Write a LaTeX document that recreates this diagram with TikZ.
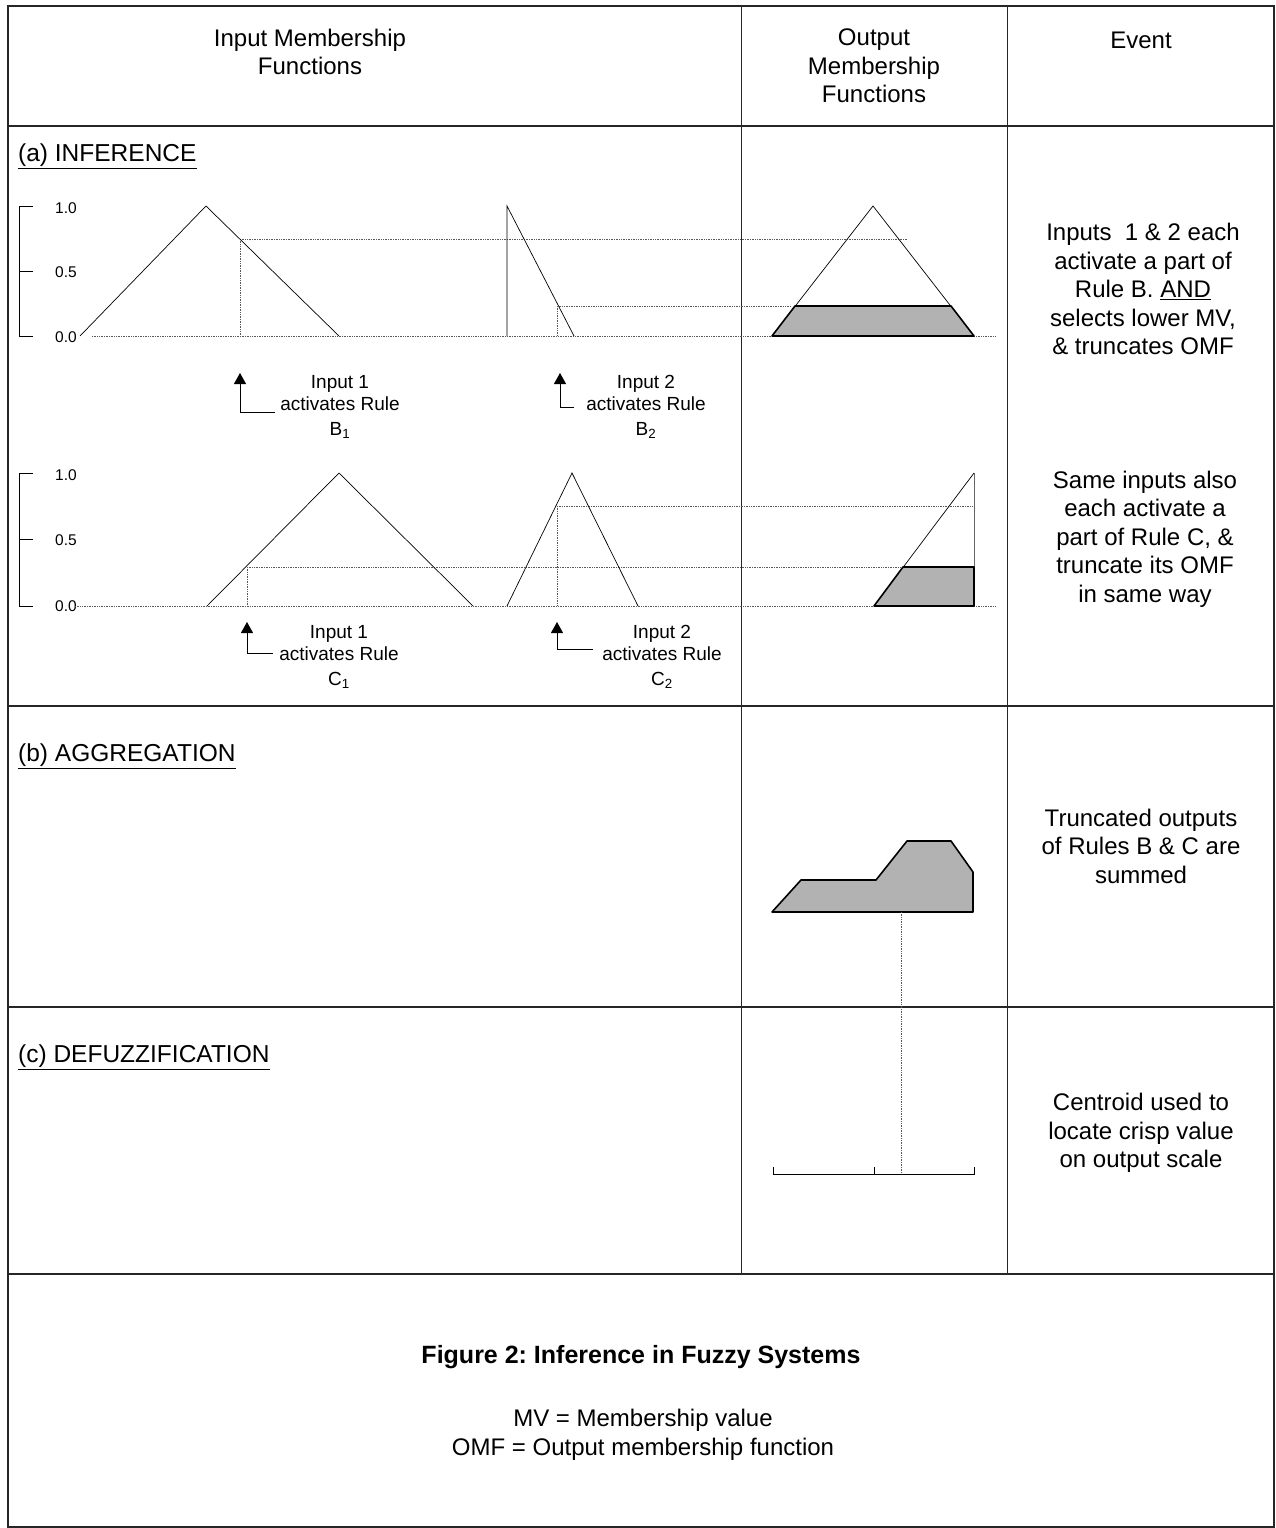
\documentclass[tikz,border=0pt]{standalone}
\usepackage{fontspec}
\setmainfont{Liberation Sans}
\usetikzlibrary{arrows.meta}
\frenchspacing
\begin{document}
\begin{tikzpicture}[x=1pt,y=-1pt,
  rowline/.style={line width=1.6pt,draw=black!85},
  colline/.style={line width=1pt,draw=black!85},
  mf/.style={line width=0.7pt,draw=black},
  guide/.style={line width=0.8pt,dash pattern=on 1pt off 0.7pt,draw=black!65},
  trunc/.style={fill=black!30,draw=black,line width=1.6pt,line join=round},
  big/.style={font=\fontsize{24}{28.5}\selectfont,align=center,inner sep=0pt},
  small/.style={font=\fontsize{19}{22}\selectfont,align=center,inner sep=0pt},
  tick/.style={font=\fontsize{15.5}{17}\selectfont,inner sep=0pt,anchor=west},
  sec/.style={font=\fontsize{24.5}{28}\selectfont,inner sep=0pt,anchor=west},
  uparrow/.style={line width=0.9pt,-{Triangle[width=12pt,length=11pt]}},
  axis/.style={line width=0.9pt,draw=black},
]
\useasboundingbox (0,0) rectangle (1276,1528);
% ---------- table frame ----------
\draw[rowline] (8,6) rectangle (1274,1527);
\draw[rowline] (8,126) -- (1274,126);
\draw[rowline] (8,706) -- (1274,706);
\draw[rowline] (8,1007) -- (1274,1007);
\draw[rowline] (8,1274) -- (1274,1274);
\draw[colline] (741,6) -- (741,1274);
\draw[colline] (1007,6) -- (1007,1274);
% ---------- headers ----------
\node[big] (hin) at (310,52) {Input Membership\\Functions};
\node[big] (hout) at (874,66) {Output\\Membership\\Functions};
\node[big] (hev) at (1141,40) {Event};
\node[sec] (sa) at (18,156) {\underline{(a) INFERENCE}};
\node[sec] (sb) at (18,756) {\underline{(b) AGGREGATION}};
\node[sec] (sc) at (18,1057) {\underline{(c) DEFUZZIFICATION}};
% ---------- row 1 axis ----------
\draw[axis] (33,206) -- (19,206) -- (19,336) -- (33,336);
\draw[axis] (19,271) -- (33,271);
\node[tick] (r1a) at (55,208) {1.0};
\node[tick] (r1b) at (55,272) {0.5};
\node[tick] (r1c) at (55,337) {0.0};
% guides row 1
\draw[guide] (92,336) -- (995,336);
\draw[guide] (240,239) -- (907,239);
\draw[guide] (240,239) -- (240,336);
\draw[guide] (557,306) -- (791,306);
\draw[guide] (557,306) -- (557,336);
% membership functions row 1
\draw[mf] (80,336) -- (206,206) -- (339,336);
\draw[mf] (507,336) -- (507,206) -- (574,336);
\draw[mf] (772,336) -- (873,206) -- (974,336);
\draw[trunc] (772,336) -- (795,306) -- (951,306) -- (974,336) -- cycle;
% arrows row 1
\coordinate (tB1) at (240,373);
\coordinate (eB1) at (275,412);
\coordinate (tB2) at (560,373);
\coordinate (eB2) at (574,407);
\draw[uparrow] (eB1) -| (tB1);
\draw[uparrow] (eB2) -| (tB2);
\node[small] (lB1) at (340,407) {Input 1\\activates Rule\\[3pt]B\textsubscript{1}};
\node[small] (lB2) at (646,407) {Input 2\\activates Rule\\[3pt]B\textsubscript{2}};
% ---------- row 2 axis ----------
\draw[axis] (33,473) -- (19,473) -- (19,606) -- (33,606);
\draw[axis] (19,539) -- (33,539);
\node[tick] (r2a) at (55,475) {1.0};
\node[tick] (r2b) at (55,540) {0.5};
\node[tick] (r2c) at (55,606) {0.0};
% guides row 2
\draw[guide] (75,606) -- (995,606);
\draw[guide] (247,567) -- (974,567);
\draw[guide] (247,567) -- (247,606);
\draw[guide] (557,506) -- (974,506);
\draw[guide] (557,506) -- (557,606);
% membership functions row 2
\draw[mf] (207,606) -- (339,473) -- (473,606);
\draw[mf] (507,606) -- (572,473) -- (638,606);
\draw[mf] (874,606) -- (974,473);
\draw[line width=0.7pt,draw=black!60] (974,473) -- (974,606);
\draw[trunc] (874,606) -- (903,567) -- (974,567) -- (974,606) -- cycle;
% arrows row 2
\coordinate (tC1) at (247,622);
\coordinate (eC1) at (273,653);
\coordinate (tC2) at (557,622);
\coordinate (eC2) at (593,649);
\draw[uparrow] (eC1) -| (tC1);
\draw[uparrow] (eC2) -| (tC2);
\node[small] (lC1) at (339,657) {Input 1\\activates Rule\\[3pt]C\textsubscript{1}};
\node[small] (lC2) at (662,657) {Input 2\\activates Rule\\[3pt]C\textsubscript{2}};
% ---------- event texts ----------
\node[big] (ev1) at (1143,289) {Inputs\ \ 1 \& 2 each\\activate a part of\\Rule B. \underline{AND}\\selects lower MV,\\\& truncates OMF};
\node[big] (ev2) at (1145,539) {Same inputs also\\each activate a\\part of Rule C, \&\\truncate its OMF\\in same way};
\node[big] (ev3) at (1141,846) {Truncated outputs\\of Rules B \& C are\\summed};
\node[big] (ev4) at (1141,1133) {Centroid used to\\locate crisp value\\on output scale};
% ---------- aggregation ----------
\draw[trunc] (772,912) -- (801,880) -- (876,880) -- (907,841) -- (951,841) -- (973,872) -- (973,912) -- cycle;
\coordinate (cenTop) at (901,912);
\coordinate (cenBot) at (901,1174);
\draw[guide] (cenTop) -- (cenBot);
% ---------- defuzzification scale ----------
\draw[axis] (773,1167) -- (773,1174) -- (974,1174) -- (974,1167);
\draw[axis] (874,1174) -- (874,1167);
% ---------- caption ----------
\node[inner sep=0pt,font=\bfseries\fontsize{25}{30}\selectfont] (cap) at (641,1357) {Figure 2: Inference in Fuzzy Systems};
\node[big] (leg) at (643,1435) {MV = Membership value\\OMF = Output membership function};
\end{tikzpicture}
\end{document}
